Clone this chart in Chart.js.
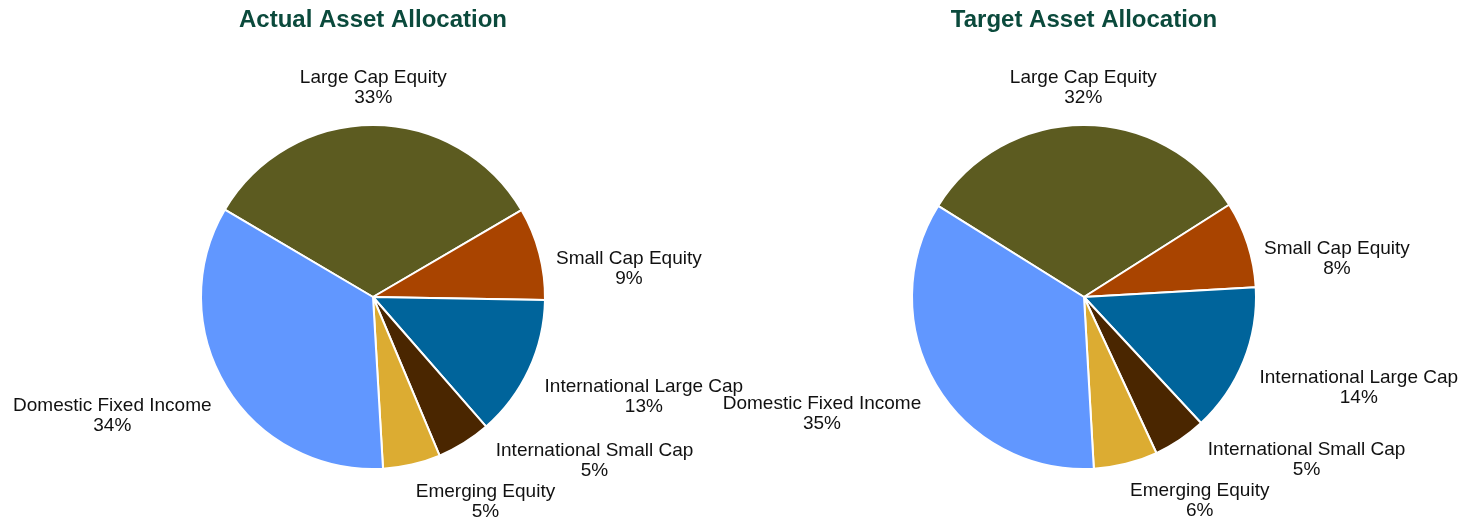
<!DOCTYPE html>
<html>
<head>
<meta charset="utf-8">
<title>Asset Allocation</title>
<script src="https://cdn.jsdelivr.net/npm/chart.js@4.4.1/dist/chart.umd.min.js"></script>
<style>
    html, body { margin: 0; padding: 0; background: #fff; overflow: hidden; }
    #wrap { position: relative; width: 1476px; height: 527px; }
    #wrap canvas { position: absolute; top: 0; }
</style>
</head>
<body>
<div id="wrap">
    <canvas id="actualChart" width="800" height="527" style="left:0px"></canvas>
    <canvas id="targetChart" width="792" height="527" style="left:684px"></canvas>
</div>
<script>
var categories = ['Large Cap Equity', 'Small Cap Equity', 'International Large Cap',
    'International Small Cap', 'Emerging Equity', 'Domestic Fixed Income'];
var actualValues = [33.1, 8.7, 13.3, 5.1, 5.4, 34.4];
var targetValues = [32.1, 8.1, 14.0, 5.0, 6.0, 34.8];
var sliceColors = ['#5c5b20', '#a94400', '#00649b', '#4a2600', '#dcac32', '#6197ff'];

var fontFamily = '"Liberation Sans", Arial, Helvetica, sans-serif';

// labels outside the pie: name + rounded percent, nudged round the pie if they collide
var outsideLabels = {
    id: 'outsideLabels',
    afterDatasetsDraw: function (chart) {
        var ctx = chart.ctx;
        var meta = chart.getDatasetMeta(0);
        var values = chart.data.datasets[0].data;
        var total = values.reduce(function (a, b) { return a + b; }, 0);
        var lineH = 20;
        var boxes = [];
        var i;

        ctx.save();
        ctx.font = '19px ' + fontFamily;

        for (i = 0; i < meta.data.length; i++) {
            var arc = meta.data[i].getProps(['x', 'y', 'startAngle', 'endAngle', 'outerRadius'], true);
            var lines = [chart.data.labels[i], Math.round(values[i] / total * 100) + '%'];
            var w = Math.max(ctx.measureText(lines[0]).width, ctx.measureText(lines[1]).width);
            boxes.push({
                arc: arc,
                lines: lines,
                w: w,
                h: lines.length * lineH,
                angle: (arc.startAngle + arc.endAngle) / 2
            });
        }

        function place(b) {
            var r = b.arc.outerRadius * 1.1;
            var cx = Math.cos(b.angle);
            var sy = Math.sin(b.angle);
            var ax = b.arc.x + cx * r;
            var ay = b.arc.y + sy * r;
            if (Math.abs(cx) < 0.1) {
                b.left = ax - b.w / 2;
            } else if (cx > 0) {
                b.left = ax;
            } else {
                b.left = ax - b.w;
            }
            b.top = sy < -0.5 ? ay - b.h : ay;
        }

        function overlaps(a, b) {
            return a.left < b.left + b.w && b.left < a.left + a.w &&
                a.top < b.top + b.h && b.top < a.top + a.h;
        }

        for (i = boxes.length - 1; i >= 0; i--) {
            var box = boxes[i];
            place(box);
            var others = boxes.slice(i + 1);
            var steps = 0;
            while (steps < 90 && others.some(function (o) { return overlaps(box, o); })) {
                box.angle -= Math.PI / 360;
                place(box);
                steps++;
            }
        }

        ctx.fillStyle = '#111';
        ctx.textAlign = 'center';
        ctx.textBaseline = 'middle';
        boxes.forEach(function (b) {
            b.lines.forEach(function (txt, k) {
                ctx.fillText(txt, b.left + b.w / 2, b.top + lineH * (k + 0.5));
            });
        });
        ctx.restore();
    }
};

function drawPie(canvasId, titleText, values, rotation, padLeft, padRight) {
    var ctx = document.getElementById(canvasId);
    return new Chart(ctx, {
        type: 'pie',
        data: {
            labels: categories,
            datasets: [{
                data: values,
                backgroundColor: sliceColors,
                borderColor: '#ffffff',
                borderWidth: 2
            }]
        },
        options: {
            responsive: false,
            animation: false,
            rotation: rotation,
            layout: {
                padding: { left: padLeft, right: padRight, top: 0, bottom: 57 }
            },
            plugins: {
                legend: { display: false },
                tooltip: { enabled: false },
                title: {
                    display: true,
                    text: titleText,
                    color: '#0b4a3c',
                    font: { family: fontFamily, size: 24, weight: 'bold', lineHeight: 1.2 },
                    padding: { top: 6, bottom: 89.2 }
                }
            }
        },
        plugins: [outsideLabels]
    });
}

drawPie('actualChart', 'Actual Asset Allocation', actualValues, -59.5, 0, 54);
drawPie('targetChart', 'Target Asset Allocation', targetValues, -58, 8, 0);
</script>
</body>
</html>
